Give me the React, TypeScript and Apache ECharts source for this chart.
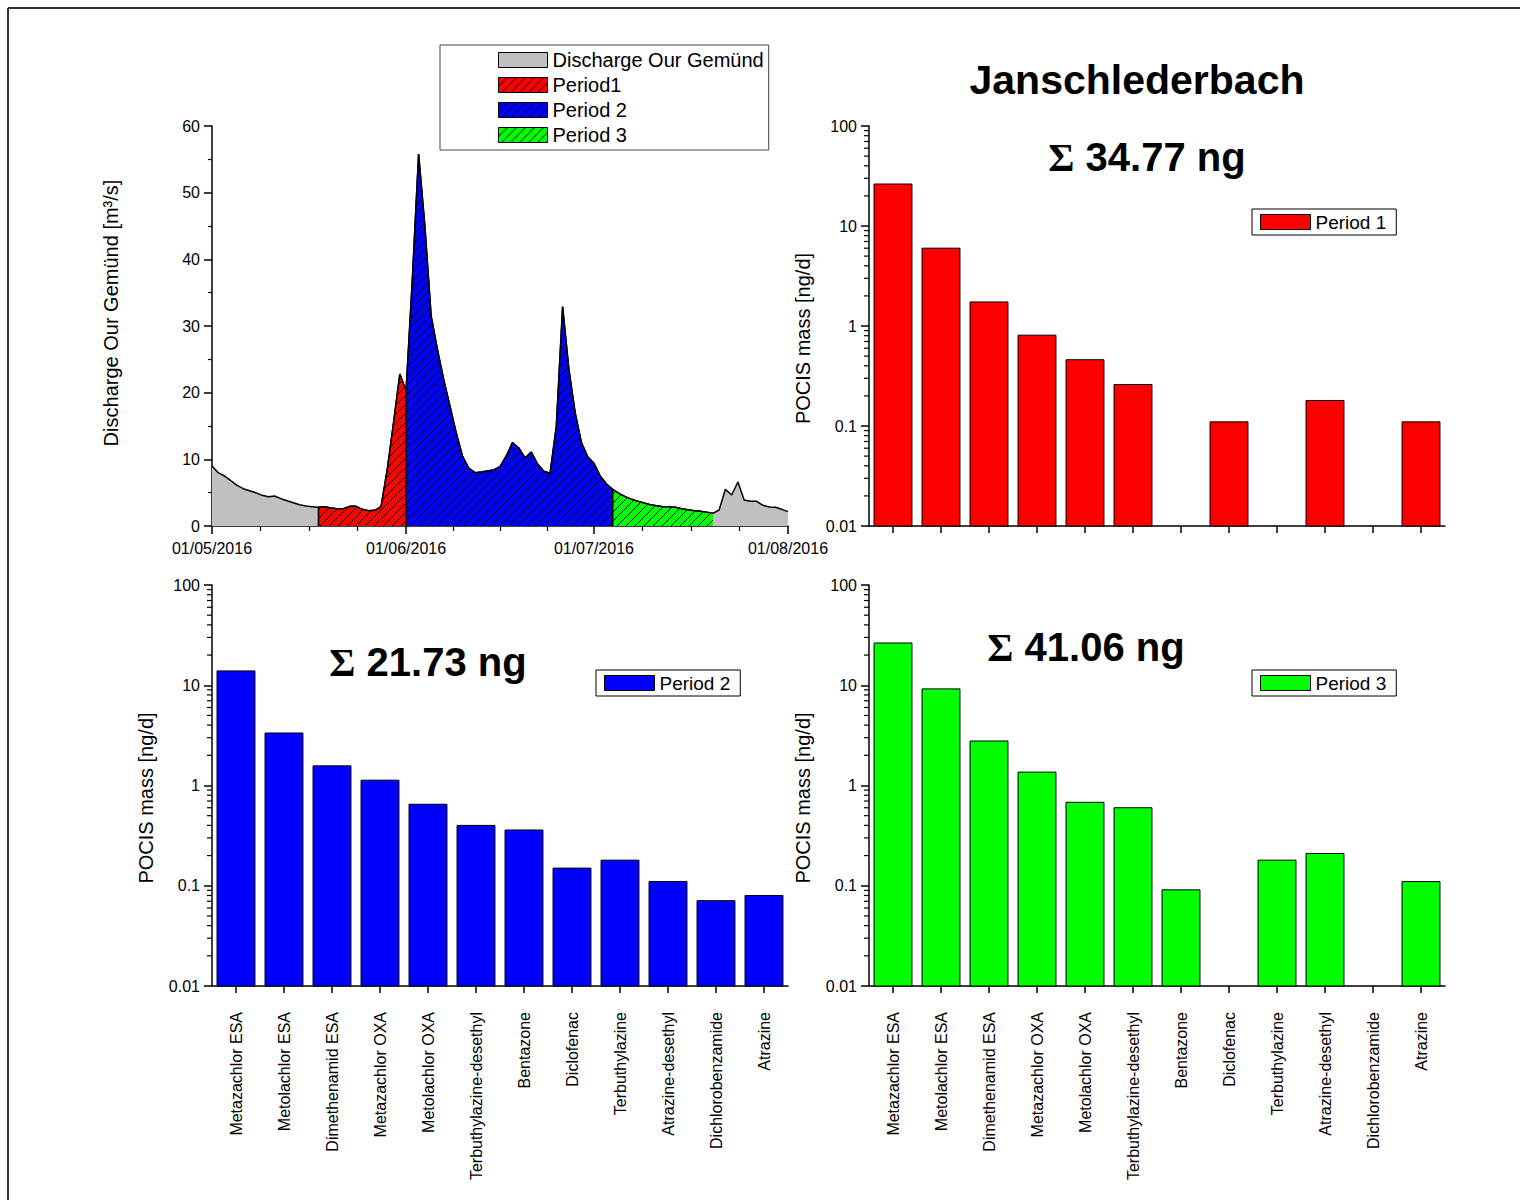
import React, { useEffect, useRef } from "react";
import * as echarts from "echarts";

const FONT = '"Liberation Sans", Arial, Helvetica, sans-serif';

// Daily discharge at Our Gemünd [m³/s], one value per day from 01/05/2016 to 01/08/2016
const discharge = [
  9.0, 8.0, 7.5, 6.8, 6.1, 5.6, 5.3, 5.0, 4.6, 4.4,
  4.5, 4.1, 3.8, 3.5, 3.2, 3.0, 2.9, 2.8, 2.9, 2.7,
  2.6, 2.6, 2.95, 2.95, 2.5, 2.3, 2.35, 2.9, 8.5, 15.5,
  22.8, 20.3, 37.0, 55.8, 45.0, 31.5, 26.5, 22.0, 18.0, 14.0,
  10.5, 8.7, 8.0, 8.1, 8.25, 8.4, 8.9, 10.5, 12.5, 11.7,
  10.2, 11.1, 9.3, 8.2, 7.9, 15.0, 32.9, 23.5, 17.0, 12.5,
  10.4, 9.4, 7.5, 6.3, 5.5, 4.9, 4.4, 4.0, 3.7, 3.45,
  3.2, 3.05, 2.9, 2.85, 2.8, 2.6, 2.45, 2.3, 2.2, 2.05,
  1.9, 2.4, 5.5, 4.65, 6.6, 3.9, 3.7, 3.7, 3.1, 2.85,
  2.8, 2.5, 2.15,
];

// Month starts as day offsets, with their tick labels
const monthStarts = [0, 31, 61, 92];
const monthLabels = ["01/05/2016", "01/06/2016", "01/07/2016", "01/08/2016"];

// Sampling periods: [first day, last day] as day offsets
const periodNames = ["Period1", "Period 2", "Period 3"];
const periodRanges = [
  [17, 31],
  [31, 64],
  [64, 80],
];
const periodColors = ["#ff0000", "#0000ff", "#00ff00"];

const dischargeName = "Discharge Our Gemünd";
const dischargeColor = "#c0c0c0";

const compounds = [
  "Metazachlor ESA",
  "Metolachlor ESA",
  "Dimethenamid ESA",
  "Metazachlor OXA",
  "Metolachlor OXA",
  "Terbuthylazine-desethyl",
  "Bentazone",
  "Diclofenac",
  "Terbuthylazine",
  "Atrazine-desethyl",
  "Dichlorobenzamide",
  "Atrazine",
];

// POCIS mass [ng/d]; null = not detected
const period1Mass = [26.3, 6.0, 1.74, 0.81, 0.46, 0.26, null, 0.11, null, 0.18, null, 0.11];
const period2Mass = [13.9, 3.34, 1.57, 1.13, 0.65, 0.4, 0.36, 0.15, 0.18, 0.11, 0.071, 0.08];
const period3Mass = [26.4, 9.2, 2.78, 1.36, 0.68, 0.6, 0.091, null, 0.18, 0.21, null, 0.11];

const barSeriesNames = ["Period 1", "Period 2", "Period 3"];
const totalMass = [34.77, 21.73, 41.06];
const siteName = "Janschlederbach";

function hatchPattern(color: string) {
  const s = 9;
  const c = document.createElement("canvas");
  c.width = s;
  c.height = s;
  const g = c.getContext("2d")!;
  g.fillStyle = color;
  g.fillRect(0, 0, s, s);
  g.strokeStyle = "#000";
  g.lineWidth = 1;
  g.beginPath();
  for (const o of [-s, 0, s]) {
    g.moveTo(o, s);
    g.lineTo(o + s, 0);
  }
  g.stroke();
  return { image: c, repeat: "repeat", imageWidth: s, imageHeight: s } as any;
}

export default function App() {
  const ref = useRef<HTMLDivElement>(null);

  useEffect(() => {
    if (!ref.current) return;
    const chart = echarts.init(ref.current, undefined, { renderer: "svg" });

    const patterns = periodColors.map((c) => hatchPattern(c));

    // quarter-month minor ticks between month starts
    const quarterTicks: number[] = [];
    for (let m = 0; m < monthStarts.length - 1; m++) {
      const a = monthStarts[m];
      const b = monthStarts[m + 1];
      for (let q = 1; q < 4; q++) quarterTicks.push(a + ((b - a) * q) / 4);
    }

    // log-axis minor ticks 2..9 in each decade
    const logMinor: number[] = [];
    for (let e = -2; e < 2; e++) {
      for (let k = 2; k <= 9; k++) logMinor.push(+(k * Math.pow(10, e)).toPrecision(3));
    }

    const axisLineStyle = { color: "#000", width: 1.5 };
    const labelStyle = { color: "#000", fontSize: 16, fontFamily: FONT };

    const grids = [
      { left: 212, top: 126, width: 576, height: 400 },
      { left: 869, top: 126, width: 576, height: 400 },
      { left: 212, top: 585, width: 576, height: 401 },
      { left: 869, top: 585, width: 576, height: 401 },
    ];

    const catAxis = (gridIndex: number, showLabels: boolean) => ({
      type: "category",
      gridIndex,
      data: compounds,
      axisLine: { show: true, lineStyle: axisLineStyle },
      axisTick: { show: true, alignWithLabel: true, length: 7, lineStyle: { color: "#000", width: 1.5 } },
      axisLabel: {
        show: showLabels,
        interval: 0,
        rotate: 90,
        margin: 26,
        ...labelStyle,
      },
      splitLine: { show: false },
    });

    const logAxis = (gridIndex: number) => ({
      type: "log",
      gridIndex,
      logBase: 10,
      min: 0.01,
      max: 100,
      name: "POCIS mass [ng/d]",
      nameLocation: "middle",
      nameGap: 56,
      nameTextStyle: { color: "#000", fontSize: 20, fontFamily: FONT, padding: [0, 25, 0, 0] },
      axisLine: { show: true, lineStyle: axisLineStyle },
      axisTick: { show: true, length: 8, lineStyle: { color: "#000", width: 1.5 } },
      axisLabel: {
        margin: 12,
        ...labelStyle,
        formatter: (v: number) => String(+v.toPrecision(3)),
      },
      splitLine: { show: false },
    });

    // Bars rise from the bottom of the log axis (0.01) up to each value
    const barSeries = (idx: number, data: (number | null)[], color: string) => ({
      type: "custom",
      name: barSeriesNames[idx],
      xAxisIndex: idx + 1,
      yAxisIndex: idx + 1,
      itemStyle: { color },
      data: data
        .map((v, i) => (v == null ? null : [i, v]))
        .filter((d) => d != null),
      encode: { x: 0, y: 1 },
      renderItem: (params: any, api: any) => {
        const cs = params.coordSys;
        const top = api.coord([api.value(0), api.value(1)]);
        const bottom = cs.y + cs.height;
        const w = (cs.width / compounds.length) * 0.79;
        return {
          type: "rect",
          shape: { x: top[0] - w / 2, y: top[1], width: w, height: bottom - top[1] },
          style: { fill: color, stroke: "#000", lineWidth: 1 },
        };
      },
      z: 3,
    });

    const minorTickSeries = (axisIndex: number) => ({
      type: "custom",
      xAxisIndex: axisIndex,
      yAxisIndex: axisIndex,
      silent: true,
      clip: false,
      data: logMinor.map((v) => [0, v]),
      encode: { x: 0, y: 1 },
      renderItem: (params: any, api: any) => {
        const y = api.coord([0, api.value(1)])[1];
        const x0 = params.coordSys.x;
        return {
          type: "line",
          shape: { x1: x0 - 5, y1: y, x2: x0, y2: y },
          style: { stroke: "#000", lineWidth: 1.2 },
        };
      },
    });

    const barLegend = (left: number, top: number, idx: number, color: string) => ({
      show: true,
      left,
      top,
      orient: "horizontal",
      selectedMode: false,
      padding: [3, 10, 3, 8],
      itemWidth: 50,
      itemHeight: 15,
      icon: "rect",
      borderColor: "#000",
      borderWidth: 1,
      backgroundColor: "#fff",
      textStyle: { color: "#000", fontSize: 19, fontFamily: FONT, lineHeight: 20 },
      data: [
        {
          name: barSeriesNames[idx],
          icon: "rect",
          itemStyle: { color, borderColor: "#000", borderWidth: 1 },
        },
      ],
    });

    const sigmaText = (x: number, y: number, value: number) => ({
      type: "text",
      x,
      y,
      style: {
        text: `{sig|Σ} ${value.toFixed(2)} ng`,
        rich: {
          sig: { fontFamily: '"Liberation Serif", "DejaVu Serif", serif', fontWeight: "bold", fontSize: 40, fill: "#000" },
        },
        fontFamily: FONT,
        fontWeight: "bold",
        fontSize: 40,
        fill: "#000",
        align: "center",
        verticalAlign: "middle",
        textAlign: "center",
        textVerticalAlign: "middle",
      },
    });

    const option: any = {
      animation: false,
      backgroundColor: "#fff",
      textStyle: { fontFamily: FONT },
      grid: grids,
      xAxis: [
        {
          type: "value",
          gridIndex: 0,
          min: 0,
          max: 92,
          position: "bottom",
          axisLine: { show: true, onZero: false, lineStyle: axisLineStyle },
          axisTick: { show: true, length: 8, customValues: monthStarts, lineStyle: { color: "#000", width: 1.5 } },
          axisLabel: {
            customValues: monthStarts,
            margin: 14,
            ...labelStyle,
            formatter: (v: number) => monthLabels[monthStarts.indexOf(Math.round(v))] ?? "",
          },
          splitLine: { show: false },
        },
        catAxis(1, false),
        catAxis(2, true),
        catAxis(3, true),
        {
          type: "value",
          gridIndex: 0,
          min: 0,
          max: 92,
          position: "bottom",
          axisLine: { show: false },
          axisTick: { show: true, length: 5, customValues: quarterTicks, lineStyle: { color: "#000", width: 1.2 } },
          axisLabel: { show: false },
          splitLine: { show: false },
        },
      ],
      yAxis: [
        {
          type: "value",
          gridIndex: 0,
          min: 0,
          max: 60,
          interval: 10,
          name: "Discharge Our Gemünd [m³/s]",
          nameLocation: "middle",
          nameGap: 91,
          nameTextStyle: { color: "#000", fontSize: 20, fontFamily: FONT, padding: [0, 0, 0, 26] },
          axisLine: { show: true, lineStyle: axisLineStyle },
          axisTick: { show: true, length: 8, lineStyle: { color: "#000", width: 1.5 } },
          minorTick: { show: true, splitNumber: 2, length: 4, lineStyle: { color: "#000", width: 1.2 } },
          axisLabel: { margin: 12, ...labelStyle },
          splitLine: { show: false },
        },
        logAxis(1),
        logAxis(2),
        logAxis(3),
      ],
      legend: [
        {
          show: true,
          left: 440,
          top: 45,
          orient: "vertical",
          selectedMode: false,
          padding: [5, 5, 5, 58],
          itemWidth: 49,
          itemHeight: 15,
          itemGap: 5,
          icon: "rect",
          borderColor: "#444",
          borderWidth: 1,
          backgroundColor: "#fff",
          textStyle: { color: "#000", fontSize: 20, fontFamily: FONT, lineHeight: 20 },
          data: [
            { name: dischargeName, icon: "rect", itemStyle: { color: dischargeColor, borderColor: "#000", borderWidth: 1 } },
            ...periodNames.map((n, i) => ({
              name: n,
              icon: "rect",
              itemStyle: { color: patterns[i], borderColor: "#000", borderWidth: 1 },
            })),
          ],
        },
        barLegend(1252, 209, 0, periodColors[0]),
        barLegend(596, 670, 1, periodColors[1]),
        barLegend(1252, 670, 2, periodColors[2]),
      ],
      series: [
        {
          type: "line",
          name: dischargeName,
          xAxisIndex: 0,
          yAxisIndex: 0,
          data: discharge.map((v, i) => [i, v]),
          symbol: "none",
          showSymbol: false,
          lineStyle: { color: "#000", width: 1.5 },
          itemStyle: { color: dischargeColor },
          areaStyle: { color: dischargeColor, opacity: 1 },
          z: 2,
        },
        ...periodRanges.map(([s, e], i) => ({
          type: "line",
          name: periodNames[i],
          xAxisIndex: 0,
          yAxisIndex: 0,
          data: [[s, 0], ...discharge.slice(s, e + 1).map((v, j) => [s + j, v])],
          symbol: "none",
          showSymbol: false,
          lineStyle: { color: "#000", width: 1.5 },
          itemStyle: { color: periodColors[i] },
          areaStyle: { color: patterns[i], opacity: 1 },
          z: 3,
        })),
        barSeries(0, period1Mass, periodColors[0]),
        barSeries(1, period2Mass, periodColors[1]),
        barSeries(2, period3Mass, periodColors[2]),
        minorTickSeries(1),
        minorTickSeries(2),
        minorTickSeries(3),
      ],
      graphic: [
        {
          type: "line",
          shape: { x1: 8, y1: 8, x2: 1520, y2: 8 },
          style: { stroke: "#333", lineWidth: 2 },
        },
        {
          type: "line",
          shape: { x1: 8, y1: 8, x2: 8, y2: 1200 },
          style: { stroke: "#333", lineWidth: 2 },
        },
        {
          type: "text",
          x: 1137,
          y: 80,
          style: {
            text: siteName,
            fontFamily: FONT,
            fontWeight: "bold",
            fontSize: 41,
            fill: "#000",
            align: "center",
            verticalAlign: "middle",
            textAlign: "center",
            textVerticalAlign: "middle",
          },
        },
        sigmaText(1147, 157, totalMass[0]),
        sigmaText(428, 662, totalMass[1]),
        sigmaText(1086, 647, totalMass[2]),
      ],
    };

    chart.setOption(option);
    return () => chart.dispose();
  }, []);

  return (
    <div
      ref={ref}
      style={{ position: "absolute", left: 0, top: 0, width: 1520, height: 1200 }}
    />
  );
}
